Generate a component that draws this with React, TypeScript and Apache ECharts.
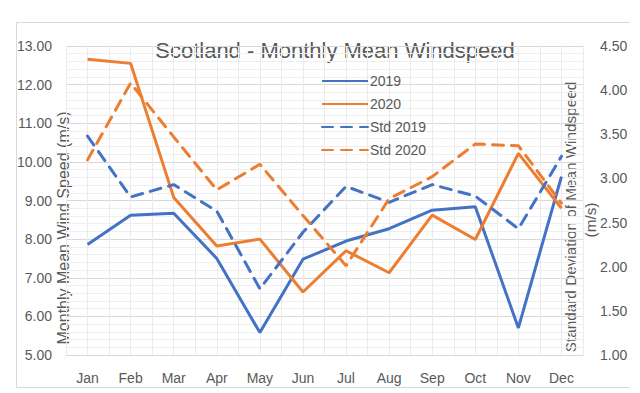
import React, { useEffect, useRef } from "react";
import * as echarts from "echarts";

const months = ["Jan", "Feb", "Mar", "Apr", "May", "Jun", "Jul", "Aug", "Sep", "Oct", "Nov", "Dec"];
const mean2019 = [7.86, 8.62, 8.67, 7.5, 5.58, 7.48, 7.95, 8.27, 8.75, 8.84, 5.7, 9.62];
const mean2020 = [12.66, 12.55, 9.08, 7.82, 8.0, 6.63, 7.7, 7.13, 8.62, 7.99, 10.22, 8.8];
const std2019 = [3.48, 2.79, 2.93, 2.63, 1.75, 2.39, 2.91, 2.73, 2.93, 2.8, 2.43, 3.25];
const std2020 = [3.21, 4.08, 3.47, 2.87, 3.16, 2.58, 2.01, 2.77, 3.02, 3.39, 3.37, 2.72];

const BLUE = "#4472C4";
const ORANGE = "#ED7D31";
const TXT = "#595959";
const FONT = "Liberation Sans";

export default function App() {
  const ref = useRef<HTMLDivElement>(null);
  useEffect(() => {
    const chart = echarts.init(ref.current!, null, { renderer: "svg" });
    const dash = [11, 8];
    chart.setOption({
      animation: false,
      backgroundColor: "#ffffff",
      textStyle: { fontFamily: FONT },
      grid: { left: 66, right: 57, top: 46, bottom: 38 },
      legend: {
        orient: "vertical",
        left: 316,
        top: 69,
        itemWidth: 46,
        itemHeight: 14,
        itemGap: 9,
        itemStyle: { opacity: 0 },
        textStyle: { fontSize: 14, color: TXT, fontFamily: FONT, padding: [0, 0, 0, -3] },
        data: ["2019", "2020", "Std 2019", "Std 2020"],
      },
      xAxis: [
        {
          type: "category",
          data: months,
          boundaryGap: true,
          axisLine: { lineStyle: { color: "#d9d9d9", width: 1 } },
          axisTick: { show: false },
          axisLabel: { fontSize: 14, color: TXT, margin: 16, fontFamily: FONT },
          splitLine: { show: false },
        },
        {
          type: "value",
          min: 0,
          max: 24,
          interval: 1,
          show: true,
          position: "top",
          axisLine: { show: false },
          axisTick: { show: false },
          axisLabel: { show: false },
          splitLine: { show: true, lineStyle: { color: "#ebebeb", width: 1 } },
        },
      ],
      yAxis: [
        {
          type: "value",
          min: 5,
          max: 13,
          interval: 1,
          axisLine: { show: false },
          axisTick: { show: false },
          axisLabel: {
            fontSize: 14,
            color: TXT,
            margin: 14,
            fontFamily: FONT,
            formatter: (v: number) => v.toFixed(2),
          },
          splitLine: { show: true, lineStyle: { color: "#d9d9d9", width: 1 } },
          minorTick: { show: false, splitNumber: 5 },
          minorSplitLine: { show: true, lineStyle: { color: "#efefef", width: 1 } },
        },
        {
          type: "value",
          min: 1,
          max: 4.5,
          interval: 0.5,
          position: "right",
          axisLine: { show: false },
          axisTick: { show: false },
          axisLabel: {
            fontSize: 14,
            color: TXT,
            margin: 17,
            fontFamily: FONT,
            formatter: (v: number) => v.toFixed(2),
          },
          splitLine: { show: false },
        },
      ],
      series: [
        {
          name: "2019",
          type: "line",
          data: mean2019,
          xAxisIndex: 0,
          yAxisIndex: 0,
          symbol: "none",
          itemStyle: { color: BLUE },
          lineStyle: { color: BLUE, width: 3 },
        },
        {
          name: "2020",
          type: "line",
          data: mean2020,
          xAxisIndex: 0,
          yAxisIndex: 0,
          symbol: "none",
          itemStyle: { color: ORANGE },
          lineStyle: { color: ORANGE, width: 3 },
        },
        {
          name: "Std 2019",
          type: "line",
          data: std2019,
          xAxisIndex: 0,
          yAxisIndex: 1,
          symbol: "none",
          itemStyle: { color: BLUE },
          lineStyle: { color: BLUE, width: 3, type: dash, cap: "round" },
        },
        {
          name: "Std 2020",
          type: "line",
          data: std2020,
          xAxisIndex: 0,
          yAxisIndex: 1,
          symbol: "none",
          itemStyle: { color: ORANGE },
          lineStyle: { color: ORANGE, width: 3, type: dash, cap: "round" },
        },
      ],
      graphic: [
        {
          type: "polyline",
          shape: { points: [[630, 22.5], [16.5, 22.5], [16.5, 387.5], [630, 387.5]] },
          style: { stroke: "#d9d9d9", fill: "none", lineWidth: 1 },
          silent: true,
        },
        {
          type: "text",
          x: 335,
          y: 50,
          style: {
            text: "Scotland - Monthly Mean Windspeed",
            fontSize: 22,
            fontFamily: FONT,
            fill: TXT,
            textAlign: "center",
            textVerticalAlign: "middle",
          },
        },
        {
          type: "text",
          x: 63,
          y: 228,
          rotation: Math.PI / 2,
          style: {
            text: "Monthly Mean Wind Speed (m/s)",
            fontSize: 16,
            fontFamily: FONT,
            fill: TXT,
            textAlign: "center",
            textVerticalAlign: "middle",
          },
        },
        {
          type: "text",
          x: 570,
          y: 217,
          rotation: Math.PI / 2,
          style: {
            text: "Standard Deviation of Mean Windspeed",
            fontSize: 15.3,
            fontFamily: FONT,
            fill: TXT,
            textAlign: "center",
            textVerticalAlign: "middle",
          },
        },
        {
          type: "text",
          x: 590,
          y: 220,
          rotation: Math.PI / 2,
          style: {
            text: "(m/s)",
            fontSize: 15.3,
            fontFamily: FONT,
            fill: TXT,
            textAlign: "center",
            textVerticalAlign: "middle",
          },
        },
      ],
    });
    return () => chart.dispose();
  }, []);
  return (
    <div
      ref={ref}
      style={{ position: "fixed", left: 0, top: 0, width: 640, height: 393, background: "#fff" }}
    />
  );
}
